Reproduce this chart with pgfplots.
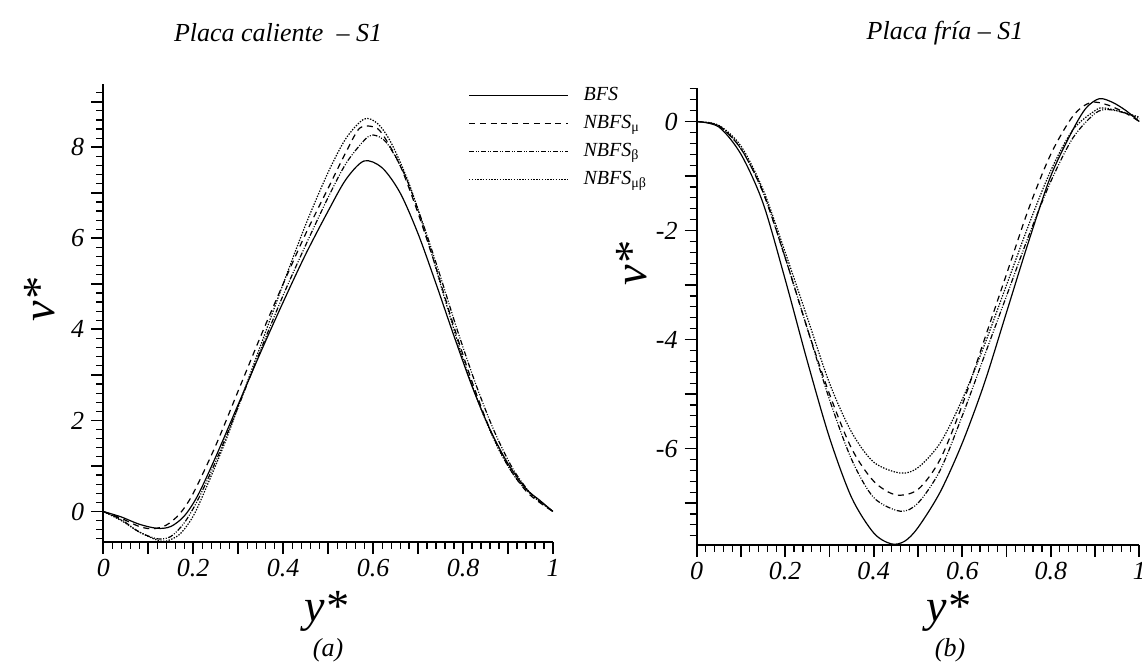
\documentclass[border=0pt]{standalone}
\usepackage{fontspec}
\setmainfont{Liberation Serif}
\usepackage{pgfplots}
\pgfplotsset{compat=1.18}

\pgfplotsset{
  perfil/.style={
    scale only axis,
    axis x line*=bottom, axis y line*=left,
    axis line style={-, line width=1pt},
    every outer x axis line/.append style={-},
    every outer y axis line/.append style={-},
    tick align=outside,
    major tick length=6pt, minor tick length=3.5pt,
    every tick/.style={black, line width=0.9pt},
    every minor tick/.style={black, line width=0.6pt},
    xmin=0, xmax=1,
    xtick={0,0.1,...,1.01},
    xticklabels={0,,0.2,,0.4,,0.6,,0.8,,1},
    minor x tick num=4,
    ticklabel style={font=\fontsize{13}{15}\selectfont\itshape},
    xticklabel style={yshift=1pt},
    clip=false,
  },
  bfs/.style={black, line width=0.6pt, smooth, tension=0.5},
  nmu/.style={black, line width=0.6pt, smooth, tension=0.5, dash pattern=on 3pt off 2.4pt},
  nbeta/.style={black, line width=0.6pt, smooth, tension=0.5, dash pattern=on 2.6pt off 0.8pt on 0.5pt off 0.8pt on 0.5pt off 0.8pt},
  nmb/.style={black, line width=0.6pt, smooth, tension=0.5, dash pattern=on 0.7pt off 0.7pt},
}

\begin{document}
\begin{tikzpicture}
\useasboundingbox (0,0) rectangle (571pt,-333.5pt);

% (a) placa caliente
\begin{axis}[perfil,
  at={(51.65pt,-271pt)}, anchor=south west,
  width=224.85pt, height=229pt,
  ymin=-0.67, ymax=9.39,
  ytick={0,1,...,9},
  yticklabels={0,,2,,4,,6,,8,},
  minor ytick={-0.6,-0.4,...,9.3},
  legend style={at={(0.811,0.995)}, anchor=north west, draw=none, fill=none,
    inner sep=0pt, row sep=5pt, column sep=7.5pt,
    font=\fontsize{10}{12}\selectfont\itshape,
    nodes={inner sep=0pt, text height=7pt, text depth=2pt}},
  legend cell align=left,
  legend image code/.code={\draw[#1] (0pt,0pt) -- (49.5pt,0pt);},
]
\addplot[bfs] coordinates {
  (0,0) (0.04,-0.12) (0.08,-0.28) (0.12,-0.37) (0.15,-0.33) (0.18,-0.1)
  (0.21,0.35) (0.25,1.2) (0.3,2.35) (0.35,3.5) (0.4,4.6) (0.45,5.65)
  (0.5,6.6) (0.54,7.3) (0.58,7.7) (0.62,7.55) (0.66,7.0) (0.7,6.1)
  (0.74,5.0) (0.78,3.85) (0.82,2.75) (0.86,1.8) (0.9,1.05) (0.94,0.5)
  (0.97,0.25) (1,0)};
\addlegendentry{BFS}
\addplot[nmu] coordinates {
  (0,0) (0.04,-0.15) (0.08,-0.33) (0.11,-0.38) (0.14,-0.3) (0.17,-0.05)
  (0.2,0.4) (0.25,1.45) (0.3,2.65) (0.35,3.85) (0.4,5.0) (0.45,6.1)
  (0.5,7.1) (0.54,7.9) (0.57,8.42) (0.6,8.45) (0.62,8.3) (0.66,7.6)
  (0.7,6.55) (0.74,5.35) (0.78,4.05) (0.82,2.85) (0.86,1.8) (0.9,1.0)
  (0.94,0.45) (0.97,0.2) (1,0)};
\addlegendentry{NBFS\textsubscript{\upshape μ}}
\addplot[nbeta] coordinates {
  (0,0) (0.04,-0.18) (0.08,-0.45) (0.12,-0.6) (0.15,-0.55) (0.18,-0.25)
  (0.21,0.25) (0.25,1.1) (0.3,2.3) (0.35,3.55) (0.4,4.75) (0.45,5.85)
  (0.5,6.9) (0.54,7.65) (0.58,8.15) (0.6,8.27) (0.63,8.1) (0.67,7.4)
  (0.71,6.35) (0.75,5.15) (0.79,3.9) (0.83,2.75) (0.87,1.75) (0.91,0.95)
  (0.95,0.4) (0.98,0.15) (1,0)};
\addlegendentry{NBFS\textsubscript{\upshape β}}
\addplot[nmb] coordinates {
  (0,0) (0.04,-0.2) (0.08,-0.45) (0.12,-0.63) (0.14,-0.65) (0.17,-0.5)
  (0.2,-0.1) (0.23,0.55) (0.27,1.5) (0.3,2.3) (0.35,3.65) (0.4,5.0)
  (0.45,6.3) (0.5,7.45) (0.54,8.2) (0.58,8.62) (0.61,8.52) (0.64,8.1)
  (0.68,7.2) (0.72,6.0) (0.76,4.65) (0.8,3.35) (0.84,2.25) (0.88,1.35)
  (0.92,0.7) (0.96,0.3) (1,0)};
\addlegendentry{NBFS\textsubscript{\upshape μβ}}
\end{axis}

% (b) placa fria
\begin{axis}[perfil,
  at={(348.35pt,-272.5pt)}, anchor=south west,
  width=221.3pt, height=228.35pt,
  ymin=-7.77, ymax=0.61,
  ytick={-7,-6,...,0},
  yticklabels={,-6,,-4,,-2,,0},
  minor ytick={-7.6,-7.4,...,0.55},
]
\addplot[bfs] coordinates {
  (0,0) (0.05,-0.1) (0.1,-0.6) (0.15,-1.5) (0.2,-2.9) (0.25,-4.4)
  (0.3,-5.8) (0.35,-6.9) (0.4,-7.55) (0.44,-7.75) (0.47,-7.7) (0.5,-7.45)
  (0.55,-6.8) (0.6,-5.9) (0.65,-4.8) (0.7,-3.5) (0.75,-2.2) (0.8,-1.0)
  (0.85,-0.15) (0.88,0.25) (0.91,0.42) (0.94,0.35) (0.97,0.2) (1,0)};
\addplot[nmu] coordinates {
  (0,0) (0.05,-0.08) (0.1,-0.5) (0.15,-1.3) (0.2,-2.5) (0.25,-3.8)
  (0.3,-5.0) (0.35,-6.0) (0.4,-6.6) (0.45,-6.85) (0.5,-6.75) (0.55,-6.2)
  (0.6,-5.2) (0.65,-4.0) (0.7,-2.8) (0.75,-1.6) (0.8,-0.6) (0.85,0.1)
  (0.89,0.35) (0.93,0.3) (0.97,0.15) (1,0)};
\addplot[nbeta] coordinates {
  (0,0) (0.05,-0.08) (0.1,-0.5) (0.15,-1.3) (0.2,-2.5) (0.25,-3.8)
  (0.3,-5.1) (0.35,-6.2) (0.4,-6.9) (0.46,-7.15) (0.5,-7.0) (0.55,-6.4)
  (0.6,-5.4) (0.65,-4.3) (0.7,-3.2) (0.75,-2.1) (0.8,-1.1) (0.85,-0.3)
  (0.9,0.15) (0.93,0.22) (0.97,0.15) (1,0.05)};
\addplot[nmb] coordinates {
  (0,0) (0.05,-0.07) (0.1,-0.45) (0.15,-1.25) (0.2,-2.4) (0.25,-3.6)
  (0.3,-4.8) (0.35,-5.7) (0.4,-6.25) (0.46,-6.45) (0.5,-6.35) (0.55,-5.9)
  (0.6,-5.1) (0.65,-4.1) (0.7,-3.0) (0.75,-1.9) (0.8,-0.9) (0.85,-0.15)
  (0.9,0.2) (0.92,0.25) (0.96,0.18) (1,0.08)};
\end{axis}

% titulos y etiquetas
\node[font=\fontsize{13}{15}\selectfont\itshape] at (139pt,-16.5pt) {Placa caliente \ – S1};
\node[font=\fontsize{13}{15}\selectfont\itshape] at (472.5pt,-16.5pt) {Placa fría – S1};
\node[font=\fontsize{23}{27}\selectfont\itshape] at (163pt,-305.5pt) {y*};
\node[font=\fontsize{23}{27}\selectfont\itshape] at (474pt,-305.5pt) {y*};
\node[font=\fontsize{23}{27}\selectfont\itshape, rotate=90] at (20pt,-150pt) {v*};
\node[font=\fontsize{23}{27}\selectfont\itshape, rotate=90] at (316pt,-132pt) {v*};
\node[font=\fontsize{13}{15}\selectfont\itshape] at (164pt,-325pt) {(a)};
\node[font=\fontsize{13}{15}\selectfont\itshape] at (475pt,-325pt) {(b)};
\end{tikzpicture}
\end{document}
